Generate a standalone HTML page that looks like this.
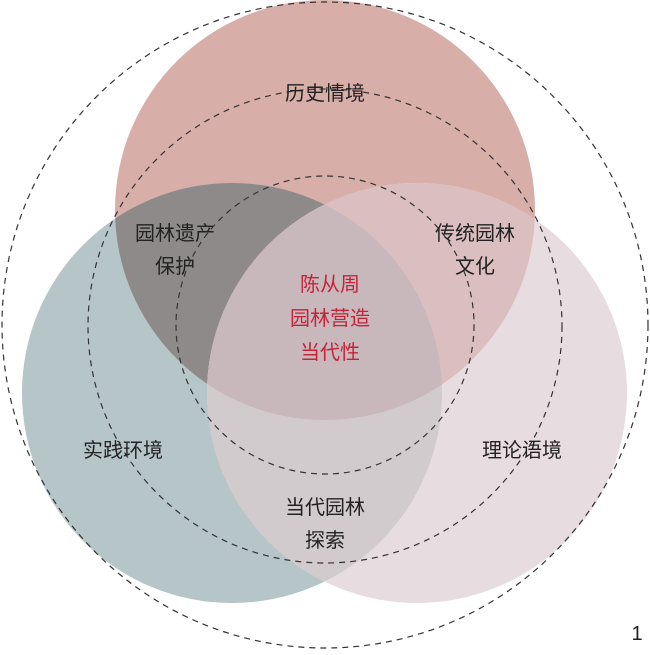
<!DOCTYPE html>
<html><head><meta charset="utf-8"><style>
html,body{margin:0;padding:0;background:#fff;}
text{font-family:"Liberation Sans","Noto Sans CJK SC",sans-serif;font-size:20px;text-anchor:middle;fill:#222;}
</style></head><body>
<svg width="650" height="650" viewBox="0 0 650 650" xmlns="http://www.w3.org/2000/svg">
<defs>
<clipPath id="cT"><circle cx="325" cy="210" r="210"/></clipPath>
<clipPath id="cL"><circle cx="232" cy="393" r="210"/></clipPath>
<clipPath id="cR"><circle cx="417" cy="393" r="210"/></clipPath>
</defs>
<circle cx="325" cy="210" r="210" fill="#d8aea8"/>
<circle cx="232" cy="393" r="210" fill="#b6c5c7"/>
<circle cx="417" cy="393" r="210" fill="#e7dde1"/>
<g clip-path="url(#cT)">
<circle cx="232" cy="393" r="210" fill="#8f8a8a"/>
<circle cx="417" cy="393" r="210" fill="#dbbfc0"/>
</g>
<g clip-path="url(#cL)">
<circle cx="417" cy="393" r="210" fill="#d1cbce"/>
<g clip-path="url(#cT)"><circle cx="417" cy="393" r="210" fill="#c8b7bb"/></g>
</g>
<g fill="none" stroke="#333" stroke-width="1.2" stroke-dasharray="6,5">
<circle cx="325" cy="325" r="323"/>
<circle cx="325" cy="326" r="237"/>
<circle cx="325" cy="325" r="149"/>
</g>
<text x="325" y="100">历史情境</text>
<text x="175" y="240">园林遗产</text>
<text x="175" y="273">保护</text>
<text x="475" y="240">传统园林</text>
<text x="475" y="273">文化</text>
<text x="330" y="291" style="fill:#c4243a">陈从周</text>
<text x="330" y="325" style="fill:#c4243a">园林营造</text>
<text x="330" y="359" style="fill:#c4243a">当代性</text>
<text x="123" y="457">实践环境</text>
<text x="522" y="457">理论语境</text>
<text x="325" y="514">当代园林</text>
<text x="325" y="547">探索</text>
<text x="637" y="640" style="font-size:20px">1</text>
</svg>
</body></html>
